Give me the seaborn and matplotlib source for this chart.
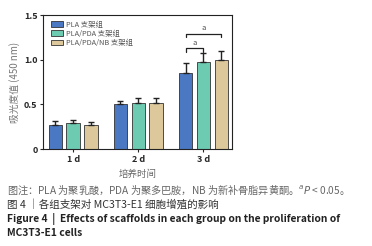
import pandas as pd
import numpy as np
import seaborn as sns
import matplotlib.pyplot as plt

# values
days = ['1 d', '2 d', '3 d']
groups = ['PLA 支架组', 'PLA/PDA 支架组', 'PLA/PDA/NB 支架组']
pla_mean = [0.27, 0.50, 0.85]
pla_err = [0.04, 0.04, 0.11]
pda_mean = [0.29, 0.52, 0.97]
pda_err = [0.04, 0.05, 0.10]
nb_mean = [0.27, 0.52, 1.00]
nb_err = [0.03, 0.055, 0.10]
colors = ['#4a78c2', '#6dcbb2', '#dcc89a']

df = pd.DataFrame({
    'day': days * 3,
    'group': [groups[0]] * 3 + [groups[1]] * 3 + [groups[2]] * 3,
    'value': pla_mean + pda_mean + nb_mean,
})
errs = pla_err + pda_err + nb_err

sns.set_style('ticks')
plt.rcParams['font.family'] = ['Noto Sans CJK SC', 'DejaVu Sans']

fig = plt.figure(figsize=(3.72, 2.46), dpi=100)
ax = fig.add_axes([0.116, 0.394, 0.508, 0.545])

sns.barplot(data=df, x='day', y='value', hue='group', palette=colors,
            saturation=1, width=0.82, gap=0.25, edgecolor='#333333',
            linewidth=0.6, errorbar=None, ax=ax)

# one-sided error bars on top of each bar
for i, p in enumerate(ax.patches[:9]):
    xc = p.get_x() + p.get_width() / 2
    h = p.get_height()
    ax.errorbar(xc, h, yerr=[[0], [errs[i]]], fmt='none', ecolor='#222222',
                elinewidth=1.0, capsize=2.5, capthick=1.0)

# significance brackets on day 3
x_pla = ax.patches[2].get_x() + ax.patches[2].get_width() / 2
x_pda = ax.patches[5].get_x() + ax.patches[5].get_width() / 2
x_nb = ax.patches[8].get_x() + ax.patches[8].get_width() / 2
for x1, x2, y in [(x_pla, x_pda, 1.13), (x_pla, x_nb, 1.29)]:
    ax.plot([x1, x1, x2, x2], [y - 0.04, y, y, y - 0.04], color='#222222', lw=0.9)
    ax.text((x1 + x2) / 2, y + 0.015, 'a', ha='center', va='bottom',
            fontsize=5.5, color='#555555')

ax.set_ylim(0, 1.5)
ax.set_xlim(-0.46, 2.44)
ax.set_yticks([0, 0.5, 1.0, 1.5])
ax.set_yticklabels(['0', '0.5', '1.0', '1.5'])
ax.tick_params(axis='both', labelsize=6.5, length=2.5, width=0.8, pad=1.5)
for lab in ax.get_xticklabels() + ax.get_yticklabels():
    lab.set_fontweight('bold')
for s in ax.spines.values():
    s.set_linewidth(0.8)
    s.set_color('#222222')

ax.set_xlabel('培养时间', fontsize=6.8, color='#666666', labelpad=4)
ax.set_ylabel('吸光度值 (450 nm)', fontsize=7, color='#777777', labelpad=3)

ax.legend(loc='upper left', bbox_to_anchor=(0.02, 0.99), frameon=False,
          fontsize=5.3, handlelength=1.6, handleheight=0.8, labelspacing=0.15,
          handletextpad=0.4, borderaxespad=0.2, labelcolor='#555555')

# caption below the chart
fig.text(0.018, 1 - 190.5 / 246, '图注：PLA 为聚乳酸，PDA 为聚多巴胺，NB 为新补骨脂异黄酮。$^{a}$$P$ < 0.05。',
         fontsize=7.3, color='#666666', va='center')
fig.text(0.018, 1 - 204.5 / 246, '图 4 ｜各组支架对 MC3T3-E1 细胞增殖的影响',
         fontsize=7.6, color='#333333', va='center')
fig.text(0.018, 1 - 219 / 246, 'Figure 4  |  Effects of scaffolds in each group on the proliferation of',
         fontsize=7.4, color='#222222', va='center', fontweight='bold')
fig.text(0.018, 1 - 233.5 / 246, 'MC3T3-E1 cells',
         fontsize=7.4, color='#222222', va='center', fontweight='bold')

fig.savefig('out.png', dpi=100)
